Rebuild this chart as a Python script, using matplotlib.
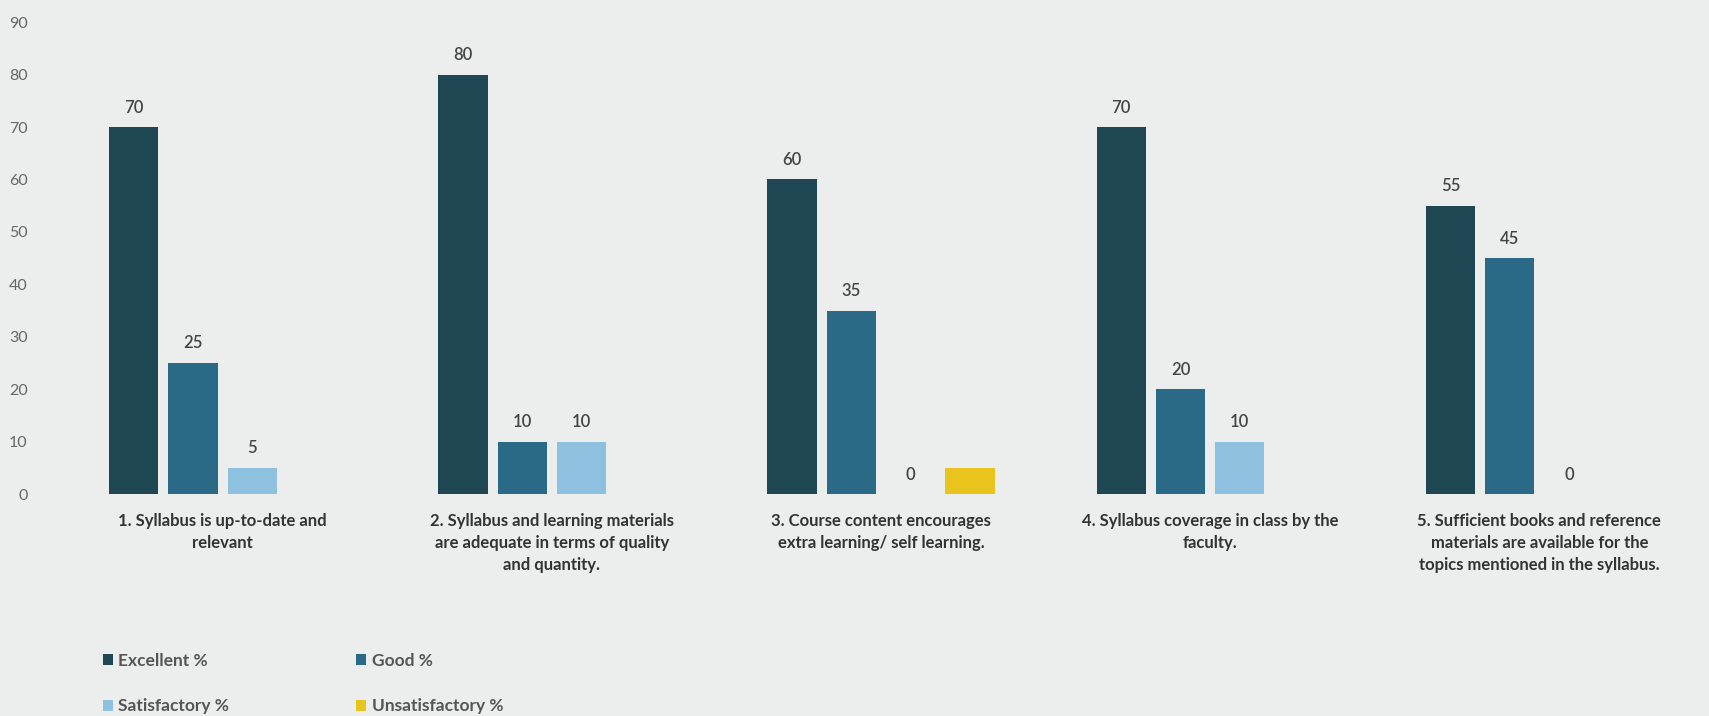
import matplotlib
matplotlib.use("Agg")
import matplotlib.pyplot as plt
import numpy as np

categories = [
    "1. Syllabus is up-to-date and\nrelevant",
    "2. Syllabus and learning materials\nare adequate in terms of quality\nand quantity.",
    "3. Course content encourages\nextra learning/ self learning.",
    "4. Syllabus coverage in class by the\nfaculty.",
    "5. Sufficient books and reference\nmaterials are available for the\ntopics mentioned in the syllabus.",
]
series_names = ["Excellent %", "Good %", "Satisfactory %", "Unsatisfactory %"]
excellent = [70, 80, 60, 70, 55]
good = [25, 10, 35, 20, 45]
satisfactory = [5, 10, 0, 10, 0]
unsatisfactory = [0, 0, 5, 0, 0]
yticks = [0, 10, 20, 30, 40, 50, 60, 70, 80, 90]

colors = ["#1f4753", "#2b6a86", "#8ec0df", "#e8c41c"]
label_series = [True, True, True, False]
bg = "#eceeed"

plt.rcParams["font.family"] = ["Lato", "DejaVu Sans"]

fig = plt.figure(figsize=(17.09, 7.16), dpi=100, facecolor=bg)
ax = fig.add_axes([0.034, 0.31, 0.963, 0.659], facecolor=bg)

x = np.arange(len(categories))
step = 0.18
width = 0.15
all_series = [excellent, good, satisfactory, unsatisfactory]
handles = []
for i, (vals, name, col) in enumerate(zip(all_series, series_names, colors)):
    pos = x + (i - 1.5) * step
    bars = ax.bar(pos, vals, width=width, color=col, label=name)
    handles.append(bars)
    if label_series[i]:
        for b, v in zip(bars, vals):
            ax.text(b.get_x() + b.get_width() / 2, v + 2.2, f"{v}",
                    ha="center", va="bottom", fontsize=12, color="#444444",
                    fontweight="semibold")

ax.set_xlim(-0.5, len(categories) - 0.5)
ax.set_ylim(0, 90)
ax.set_yticks(yticks)
ax.set_yticklabels([str(t) for t in yticks], fontsize=11.5, color="#666666")
ax.set_xticks(x)
ax.set_xticklabels(categories, fontsize=12, color="#333333",
                   fontweight="bold", linespacing=1.45)
ax.tick_params(axis="both", length=0)
ax.tick_params(axis="x", pad=14)
ax.tick_params(axis="y", pad=22)
for s in ax.spines.values():
    s.set_visible(False)

order = [0, 2, 1, 3]
leg = fig.legend([handles[k] for k in order], [series_names[k] for k in order],
                 loc="upper left", bbox_to_anchor=(0.051, 0.11), ncol=2,
                 frameon=False, fontsize=12.5, handlelength=0.6,
                 handleheight=0.6, handletextpad=0.3, columnspacing=7.3,
                 labelspacing=1.7)
for t in leg.get_texts():
    t.set_color("#555555")
    t.set_fontweight("bold")

fig.savefig("out.png", dpi=100, facecolor=bg)
